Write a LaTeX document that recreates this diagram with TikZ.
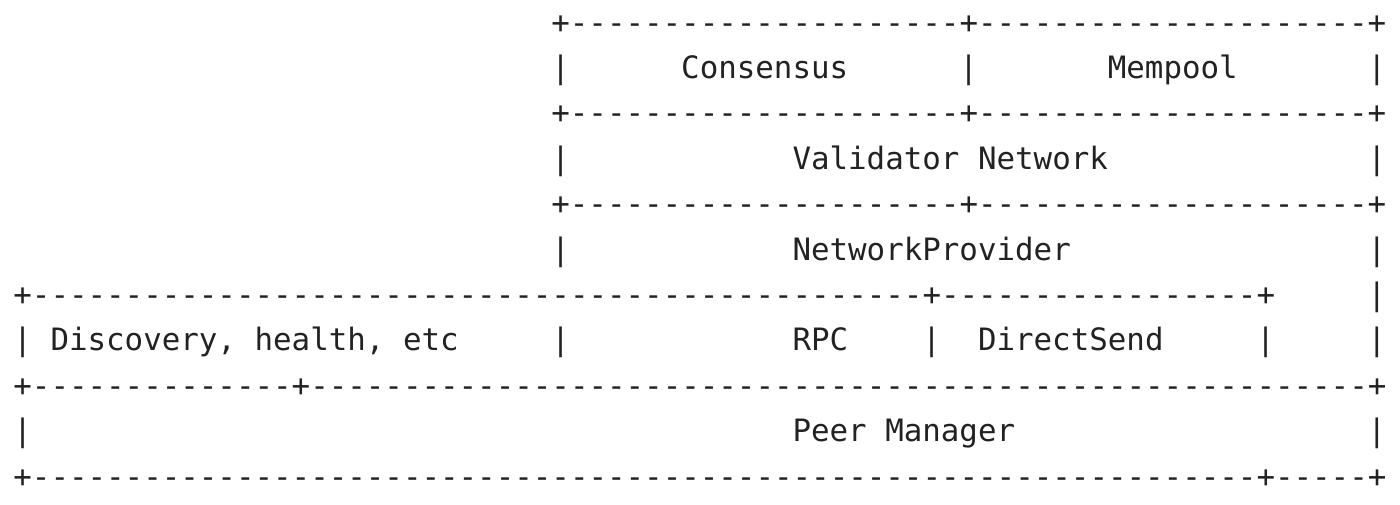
\documentclass[tikz,border=0pt]{standalone}
\usepackage{fontspec}
\setmonofont{DejaVu Sans Mono}
\definecolor{inkc}{RGB}{34,34,34}
\ExplSyntaxOn
\cs_new:Npn \dashrun #1 { \prg_replicate:nn {#1} {-} }
\ExplSyntaxOff
\tikzset{
  asc/.style={anchor=base west, inner sep=0pt, outer sep=0pt,
    font=\fontsize{15.41pt}{18pt}\selectfont\ttfamily, text=inkc}
}
\newcommand\seg[4]{\node[asc] (#1) at ({6.7pt+#2*9.275pt},{-16.55pt-#3*22.7pt}) {#4};}
\begin{document}
\begin{tikzpicture}
\fill[white] (0,0) rectangle (700pt,-252pt);
\useasboundingbox (0,0) rectangle (700pt,-252pt);
% row 0
\seg{r0a}{29}{0}{+\dashrun{21}+\dashrun{21}+}
% row 1
\seg{r1a}{29}{1}{|}
\seg{cons}{36}{1}{Consensus}
\seg{r1b}{51}{1}{|}
\seg{memp}{59}{1}{Mempool}
\seg{r1c}{73}{1}{|}
% row 2
\seg{r2a}{29}{2}{+\dashrun{21}+\dashrun{21}+}
% row 3
\seg{r3a}{29}{3}{|}
\seg{valnet}{42}{3}{Validator Network}
\seg{r3b}{73}{3}{|}
% row 4
\seg{r4a}{29}{4}{+\dashrun{21}+\dashrun{21}+}
% row 5
\seg{r5a}{29}{5}{|}
\seg{netprov}{42}{5}{NetworkProvider}
\seg{r5b}{73}{5}{|}
% row 6
\seg{r6a}{0}{6}{+\dashrun{48}+\dashrun{17}+}
\seg{r6b}{73}{6}{|}
% row 7
\seg{r7a}{0}{7}{|}
\seg{disc}{2}{7}{Discovery, health, etc}
\seg{r7b}{29}{7}{|}
\seg{rpc}{42}{7}{RPC}
\seg{r7c}{49}{7}{|}
\seg{dsend}{52}{7}{DirectSend}
\seg{r7d}{67}{7}{|}
\seg{r7e}{73}{7}{|}
% row 8
\seg{r8a}{0}{8}{+\dashrun{14}+\dashrun{57}+}
% row 9
\seg{r9a}{0}{9}{|}
\seg{peerm}{42}{9}{Peer Manager}
\seg{r9b}{73}{9}{|}
% row 10
\seg{r10a}{0}{10}{+\dashrun{66}+\dashrun{5}+}
\end{tikzpicture}
\end{document}
